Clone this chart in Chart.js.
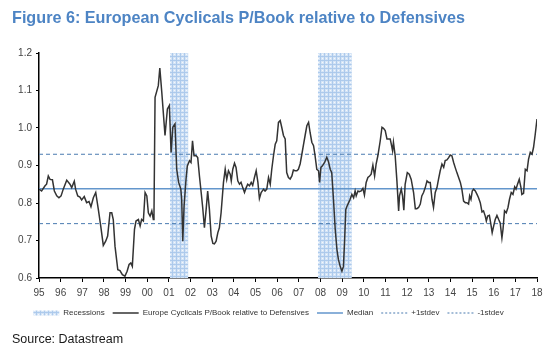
<!DOCTYPE html>
<html>
<head>
<meta charset="utf-8">
<script src="https://cdn.jsdelivr.net/npm/chart.js@4.4.1/dist/chart.umd.min.js"></script>
<style>
  html, body { margin: 0; padding: 0; background: #ffffff; }
  #wrap { position: relative; width: 558px; height: 360px; overflow: hidden; background: #fff; }
  #title { position: absolute; left: 12px; top: 8px; font: bold 17px "Liberation Sans", Arial, sans-serif; line-height: 20px; color: #4d84c4; white-space: nowrap; transform-origin: 0 0; }
  #source { position: absolute; left: 12px; top: 332px; font: 12.5px "Liberation Sans", Arial, sans-serif; line-height: 15px; color: #1a1a1a; white-space: nowrap; }
  canvas { position: absolute; left: 0; top: 0; }
</style>
</head>
<body>
<div id="wrap">
  <canvas id="chart" width="558" height="360"></canvas>
  <div id="title">Figure 6: European Cyclicals P/Book relative to Defensives</div>
  <div id="source">Source: Datastream</div>
</div>
<script>
// ---- Data ----
const years = [
1995.00,1995.12,1995.28,1995.35,1995.43,1995.51,1995.62,1995.71,1995.82,1995.92,
1996.02,1996.12,1996.28,1996.43,1996.51,1996.63,1996.69,1996.79,1996.89,1996.97,
1997.09,1997.20,1997.31,1997.40,1997.51,1997.62,1997.74,1997.85,1997.97,
1998.08,1998.17,1998.28,1998.36,1998.43,1998.51,1998.64,1998.74,1998.85,1998.97,
1999.07,1999.16,1999.24,1999.31,1999.41,1999.48,1999.59,1999.67,1999.74,1999.82,1999.90,1999.98,
2000.05,2000.13,2000.21,2000.28,2000.31,2000.36,2000.51,2000.58,2000.67,2000.82,2000.93,
2001.02,2001.10,2001.18,2001.28,2001.36,2001.45,2001.55,2001.59,2001.64,2001.70,2001.79,2001.85,2001.95,
2002.02,2002.09,2002.16,2002.26,2002.33,2002.41,2002.49,2002.56,2002.64,2002.72,2002.79,2002.87,2002.95,
2003.03,2003.10,2003.18,2003.26,2003.33,2003.41,2003.52,2003.60,2003.67,2003.75,2003.83,2003.88,2003.95,
2004.03,2004.10,2004.18,2004.26,2004.33,2004.41,2004.49,2004.57,2004.64,2004.72,2004.80,2004.87,2004.95,
2005.03,2005.11,2005.18,2005.26,2005.37,2005.44,2005.52,2005.60,2005.68,2005.75,2005.83,2005.91,2005.98,
2006.06,2006.14,2006.21,2006.29,2006.37,2006.44,2006.52,2006.60,2006.68,2006.75,2006.83,2006.91,2006.98,
2007.06,2007.14,2007.22,2007.29,2007.37,2007.45,2007.52,2007.60,2007.68,2007.75,2007.83,2007.91,2007.96,
2008.02,2008.09,2008.19,2008.29,2008.37,2008.45,2008.52,2008.60,2008.68,2008.76,2008.83,2008.91,2008.99,
2009.06,2009.11,2009.17,2009.23,2009.30,2009.37,2009.45,2009.53,2009.60,2009.65,2009.73,2009.79,2009.88,2009.96,
2010.03,2010.11,2010.19,2010.27,2010.34,2010.42,2010.50,2010.57,2010.65,2010.76,2010.84,2010.91,2010.99,
2011.07,2011.14,2011.22,2011.27,2011.33,2011.37,2011.45,2011.53,2011.61,2011.65,2011.73,2011.79,2011.85,2011.91,
2012.01,2012.10,2012.19,2012.30,2012.38,2012.45,2012.53,2012.61,2012.68,2012.76,2012.84,2012.92,2012.99,
2013.07,2013.15,2013.22,2013.30,2013.38,2013.45,2013.53,2013.61,2013.69,2013.76,2013.84,2013.92,2013.99,
2014.07,2014.15,2014.22,2014.30,2014.38,2014.46,2014.53,2014.61,2014.69,2014.76,2014.84,2014.89,2014.95,
2015.01,2015.07,2015.15,2015.23,2015.30,2015.38,2015.46,2015.53,2015.61,2015.66,2015.72,2015.80,2015.86,2015.93,
2016.00,2016.07,2016.15,2016.23,2016.30,2016.38,2016.43,2016.50,2016.58,2016.66,2016.73,2016.81,2016.89,2016.97,
2017.03,2017.10,2017.18,2017.26,2017.30,2017.38,2017.46,2017.54,2017.61,2017.69,2017.77,2017.84,2017.92,2018.00
];
const ratio = [
0.837,0.832,0.846,0.850,0.872,0.863,0.862,0.832,0.819,0.814,
0.819,0.837,0.861,0.850,0.841,0.858,0.837,0.819,0.816,0.808,
0.817,0.801,0.804,0.790,0.814,0.828,0.783,0.739,0.687,
0.698,0.712,0.774,0.774,0.756,0.685,0.622,0.620,0.609,0.605,
0.618,0.636,0.640,0.631,0.730,0.752,0.756,0.739,0.756,0.752,0.828,0.819,
0.774,0.765,0.779,0.756,0.765,1.082,1.113,1.160,1.096,0.980,1.051,
1.060,0.935,1.002,1.011,0.890,0.855,0.837,0.810,0.698,0.792,0.863,0.899,0.913,
0.908,0.966,0.926,0.926,0.921,0.872,0.828,0.788,0.734,0.783,0.832,0.783,0.712,
0.692,0.691,0.698,0.721,0.734,0.774,0.855,0.890,0.863,0.886,0.877,0.859,0.890,
0.906,0.895,0.859,0.850,0.855,0.841,0.828,0.841,0.850,0.846,0.855,0.847,0.868,
0.886,0.855,0.812,0.828,0.837,0.832,0.837,0.868,0.850,0.890,0.926,0.957,0.966,
1.015,1.020,1.002,0.980,0.971,0.881,0.868,0.864,0.872,0.888,0.886,0.886,0.890,
0.904,0.930,0.957,0.980,1.006,1.015,0.988,0.962,0.953,0.926,0.890,0.886,0.855,
0.895,0.899,0.908,0.922,0.910,0.890,0.881,0.810,0.730,0.676,0.649,0.631,0.618,
0.631,0.694,0.783,0.792,0.801,0.810,0.823,0.814,0.832,0.819,0.832,0.830,0.832,0.839,
0.821,0.855,0.868,0.872,0.877,0.901,0.872,0.904,0.926,0.966,1.002,0.999,0.993,
0.971,0.971,0.971,0.957,0.939,0.962,0.926,0.859,0.779,0.819,0.837,0.819,0.781,0.850,
0.881,0.877,0.863,0.828,0.785,0.785,0.788,0.797,0.819,0.828,0.841,0.859,0.855,
0.855,0.810,0.788,0.828,0.841,0.863,0.886,0.904,0.895,0.913,0.915,0.921,0.928,
0.926,0.908,0.895,0.881,0.868,0.855,0.837,0.805,0.801,0.801,0.797,0.819,0.810,
0.832,0.837,0.832,0.823,0.814,0.801,0.776,0.779,0.765,0.752,0.765,0.767,0.747,0.721,
0.739,0.756,0.767,0.756,0.747,0.707,0.730,0.779,0.774,0.788,0.810,0.828,0.823,0.843,
0.837,0.850,0.863,0.841,0.823,0.826,0.890,0.886,0.917,0.935,0.930,0.948,0.984,1.024
];
const medianValue = 0.838;
const plusStdev = 0.930;
const minusStdev = 0.745;
const recessionStart = [2001.05, 2007.88];
const recessionEnd = [2001.90, 2009.45];
const xRange = [1995, 2018];
const yRange = [0.6, 1.2];
const seriesNames = ['Recessions', 'Europe Cyclicals P/Book relative to Defensives', 'Median', '+1stdev', '-1stdev'];

// ---- styling ----
const FONT = '"Liberation Sans", Arial, sans-serif';
const lineColor = '#333333';
const medianColor = '#6396cc';
const stdevColor = '#4a7bb0';

function makePattern() {
  const pc = document.createElement('canvas');
  pc.width = 4; pc.height = 4;
  const p = pc.getContext('2d');
  p.fillStyle = '#d4e4f6'; p.fillRect(0, 0, 4, 4);
  p.fillStyle = '#adcaec';
  p.fillRect(0, 0, 4, 1);
  p.fillRect(0, 0, 1, 4);
  p.fillStyle = '#f4f8fd'; p.fillRect(2, 2, 1, 1);
  return p.createPattern(pc, 'repeat');
}
const hatch = makePattern();

const pts = years.map((x, i) => ({ x: x, y: ratio[i] }));
const flat = v => [{ x: xRange[0], y: v }, { x: xRange[1], y: v }];

const datasets = [];
recessionStart.forEach((s, i) => {
  datasets.push({
    label: seriesNames[0],
    data: [{ x: s, y: yRange[1] }, { x: recessionEnd[i], y: yRange[1] }],
    borderWidth: 0, borderColor: 'rgba(0,0,0,0)', backgroundColor: hatch,
    fill: 'start', pointRadius: 0, order: 10
  });
});
datasets.push({ label: seriesNames[2], data: flat(medianValue), borderColor: medianColor, borderWidth: 1.3, pointRadius: 0, fill: false, order: 3 });
datasets.push({ label: seriesNames[3], data: flat(plusStdev), borderColor: stdevColor, borderWidth: 1, borderDash: [4, 3], pointRadius: 0, fill: false, order: 3 });
datasets.push({ label: seriesNames[4], data: flat(minusStdev), borderColor: stdevColor, borderWidth: 1, borderDash: [4, 3], pointRadius: 0, fill: false, order: 3 });
datasets.push({ label: seriesNames[1], data: pts, borderColor: lineColor, borderWidth: 1.5, pointRadius: 0, fill: false, tension: 0, order: 0 });

const legendItems = [
  { text: seriesNames[0], pointStyle: 'line', strokeStyle: hatch, fillStyle: hatch, lineWidth: 5, lineDash: [] },
  { text: seriesNames[1], pointStyle: 'line', strokeStyle: lineColor, fillStyle: lineColor, lineWidth: 1.5, lineDash: [] },
  { text: seriesNames[2], pointStyle: 'line', strokeStyle: medianColor, fillStyle: medianColor, lineWidth: 1.5, lineDash: [] },
  { text: seriesNames[3], pointStyle: 'line', strokeStyle: stdevColor, fillStyle: stdevColor, lineWidth: 1, lineDash: [2, 2] },
  { text: seriesNames[4], pointStyle: 'line', strokeStyle: stdevColor, fillStyle: stdevColor, lineWidth: 1, lineDash: [2, 2] }
];

new Chart(document.getElementById('chart'), {
  type: 'line',
  data: { datasets: datasets },
  options: {
    responsive: false,
    animation: false,
    events: [],
    layout: { padding: { left: 0, right: 21, top: 53, bottom: 33 } },
    plugins: {
      tooltip: { enabled: false },
      title: { display: false },
      legend: {
        display: true,
        position: 'bottom',
        labels: {
          usePointStyle: true,
          pointStyleWidth: 26,
          padding: 8,
          color: '#333',
          font: { family: FONT, size: 8 },
          generateLabels: () => legendItems.map(it => Object.assign({ hidden: false, fontColor: '#333' }, it))
        }
      }
    },
    scales: {
      x: {
        type: 'linear',
        min: xRange[0], max: xRange[1],
        border: { display: true, color: '#000', width: 1.5 },
        grid: { display: true, drawOnChartArea: false, drawTicks: true, tickLength: 4, color: '#000', lineWidth: 1 },
        ticks: {
          stepSize: 1, autoSkip: false, maxRotation: 0, padding: 5,
          color: '#444', font: { family: FONT, size: 10 },
          callback: v => String(Math.round(v) % 100).padStart(2, '0')
        },
        afterFit: s => { s.height = 23; }
      },
      y: {
        type: 'linear',
        min: yRange[0], max: yRange[1],
        border: { display: true, color: '#000', width: 1.5 },
        grid: { display: true, drawOnChartArea: false, drawTicks: true, tickLength: 3, color: '#000', lineWidth: 1 },
        ticks: {
          stepSize: 0.1, padding: 4,
          color: '#444', font: { family: FONT, size: 10 },
          callback: v => Number(v).toFixed(1)
        },
        afterFit: s => { s.width = 39; }
      }
    }
  }
});

// fit the title to the reference width
(function () {
  const t = document.getElementById('title');
  const w = t.getBoundingClientRect().width;
  if (w > 0) t.style.transform = 'scaleX(' + (453 / w).toFixed(4) + ')';
})();
</script>
</body>
</html>
